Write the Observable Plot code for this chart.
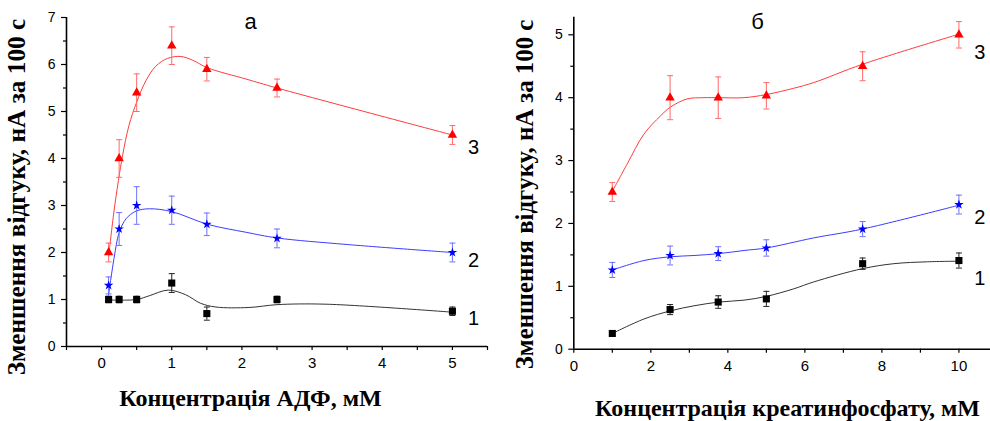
<!DOCTYPE html>
<html>
<head>
<meta charset="utf-8">
<script src="https://cdn.jsdelivr.net/npm/d3@7"></script>
<script src="https://cdn.jsdelivr.net/npm/@observablehq/plot@0.6"></script>
<style>
  body { margin: 0; background: #fff; }
  #chart { position: relative; width: 990px; height: 421px; overflow: hidden; background: #fff; }
  #chart svg { position: absolute; top: 0; }
</style>
</head>
<body>
<div id="chart"></div>
<script>
// ---- Panel а: response decrease vs ADP concentration (mM) ----
const adpConc  = [0.1, 0.25, 0.5, 1, 1.5, 2.5, 5];
const adpResp1 = [1.0, 1.0, 1.0, 1.35, 0.7, 1.0, 0.75];
const adpErr1  = [0.07, 0.07, 0.07, 0.2, 0.14, 0.07, 0.09];
const adpResp2 = [1.3, 2.5, 3.0, 2.9, 2.6, 2.3, 2.0];
const adpErr2  = [0.18, 0.35, 0.4, 0.3, 0.24, 0.2, 0.2];
const adpResp3 = [2.0, 4.0, 5.4, 6.4, 5.9, 5.5, 4.5];
const adpErr3  = [0.2, 0.4, 0.4, 0.4, 0.25, 0.19, 0.2];

// smoothed fit curves, panel а
const adpFitX1 = [0.1, 0.5, 0.68, 0.95, 1.2, 1.41, 1.63, 2.1, 2.5, 3.2, 5];
const adpFitY1 = [0.99, 1.0, 1.08, 1.2, 1.1, 0.92, 0.84, 0.83, 0.89, 0.9, 0.73];
const adpFitX2 = [0.1, 0.18, 0.25, 0.35, 0.49, 0.68, 1.0, 1.51, 2.06, 2.5, 3.5, 5];
const adpFitY2 = [1.1, 1.9, 2.42, 2.72, 2.88, 2.93, 2.87, 2.6, 2.43, 2.31, 2.17, 2.0];
const adpFitX3 = [0.1, 0.17, 0.24, 0.3, 0.39, 0.5, 0.63, 0.77, 0.94, 1.13, 1.3, 1.51, 2.06, 2.5, 5];
const adpFitY3 = [1.9, 2.8, 3.53, 4.07, 4.7, 5.2, 5.65, 5.96, 6.13, 6.17, 6.09, 5.93, 5.69, 5.5, 4.5];

// ---- Panel б: response decrease vs creatine phosphate concentration (mM) ----
const cpConc  = [1, 2.5, 3.75, 5, 7.5, 10];
const cpResp1 = [0.25, 0.63, 0.75, 0.8, 1.36, 1.41];
const cpErr1  = [0.04, 0.08, 0.1, 0.12, 0.09, 0.12];
const cpResp2 = [1.26, 1.49, 1.52, 1.61, 1.91, 2.3];
const cpErr2  = [0.12, 0.15, 0.11, 0.13, 0.12, 0.15];
const cpResp3 = [2.5, 4.0, 4.0, 4.03, 4.5, 5.0];
const cpErr3  = [0.15, 0.35, 0.33, 0.21, 0.23, 0.21];

// smoothed fit curves, panel б
const cpFitX1 = [1, 1.82, 2.51, 3.12, 3.77, 4.42, 5, 5.71, 6.23, 7.49, 8.31, 9.18, 10];
const cpFitY1 = [0.25, 0.48, 0.61, 0.69, 0.75, 0.78, 0.84, 0.96, 1.07, 1.28, 1.36, 1.39, 1.4];
const cpFitX2 = [1, 1.82, 2.51, 3.12, 3.77, 4.42, 5, 6.23, 7.49, 10];
const cpFitY2 = [1.26, 1.41, 1.47, 1.49, 1.52, 1.57, 1.61, 1.77, 1.91, 2.29];
const cpFitX3 = [1, 1.39, 1.82, 2.25, 2.51, 2.94, 3.38, 3.77, 4.42, 5, 5.71, 6.23, 7.49, 10];
const cpFitY3 = [2.51, 2.95, 3.42, 3.71, 3.85, 3.98, 4.0, 4.0, 4.0, 4.05, 4.15, 4.24, 4.53, 5.01];

// curve numbers and where they sit (data units)
const curveNames = ["1", "2", "3"];
const adpNameX = [5.3, 5.3, 5.3];
const adpNameY = [0.59, 1.82, 4.24];
const cpNameX  = [10.54, 10.54, 10.54];
const cpNameY  = [1.13, 2.09, 4.72];

// axis ticks
const adpTicksX = [0, 1, 2, 3, 4, 5];
const adpMinorX = [-0.5, 0.5, 1.5, 2.5, 3.5, 4.5, 5.5];
const adpTicksY = [0, 1, 2, 3, 4, 5, 6, 7];
const adpMinorY = [0.5, 1.5, 2.5, 3.5, 4.5, 5.5, 6.5];
const cpTicksX = [0, 2, 4, 6, 8, 10];
const cpMinorX = [1, 3, 5, 7, 9];
const cpTicksY = [0, 1, 2, 3, 4, 5];
const cpMinorY = [0.5, 1.5, 2.5, 3.5, 4.5];

const yTitle = "Зменшення відгуку, нА за 100 с";
const adpTitle = "Концентрація АДФ, мМ";
const cpTitle = "Концентрація креатинфосфату, мМ";

// marker / line styling per curve
const styles = [
  {symbol: "square",   fill: "#000000", line: "#333333", bar: "#222222", r: 4},
  {symbol: "star",     fill: "#0000ff", line: "#3c3cff", bar: "#6f6fff", r: 3},
  {symbol: "triangle", fill: "#ff0000", line: "#ff3c3c", bar: "#ff6a6a", r: 3.5}
];

// horizontal cap for error bars
const cap = {draw(ctx) { ctx.moveTo(-3, 0); ctx.lineTo(3, 0); }};

const serifBold = {fontFamily: "'Liberation Serif', 'Times New Roman', serif", fontWeight: "bold"};
const intFormat = d3.format("d");

function seriesMarks(xs, ys, es, fx, fy, st) {
  const pts = xs.map((x, i) => ({x, y: ys[i], e: es[i]}));
  const fit = fx.map((x, i) => ({x, y: fy[i]}));
  return [
    Plot.line(fit, {x: "x", y: "y", curve: "catmull-rom", stroke: st.line, strokeWidth: 1}),
    Plot.ruleX(pts, {x: "x", y1: d => d.y - d.e, y2: d => d.y + d.e, stroke: st.bar, strokeWidth: 1}),
    Plot.dot(pts, {x: "x", y: d => d.y - d.e, symbol: cap, stroke: st.bar, strokeWidth: 1, r: 3}),
    Plot.dot(pts, {x: "x", y: d => d.y + d.e, symbol: cap, stroke: st.bar, strokeWidth: 1, r: 3}),
    Plot.dot(pts, {x: "x", y: "y", symbol: st.symbol, fill: st.fill, stroke: "none", r: st.r})
  ];
}

function panel(cfg) {
  const names = curveNames.map((t, i) => ({t, x: cfg.nameX[i], y: cfg.nameY[i]}));
  return Plot.plot({
    width: 495,
    height: 421,
    marginLeft: cfg.margin[3],
    marginRight: cfg.margin[1],
    marginTop: cfg.margin[0],
    marginBottom: cfg.margin[2],
    style: {fontFamily: "'Liberation Sans', Arial, sans-serif", background: "transparent", color: "#000", overflow: "visible"},
    x: {domain: cfg.xDomain},
    y: {domain: cfg.yDomain},
    marks: [
      ...seriesMarks(cfg.conc, cfg.resp[0], cfg.err[0], cfg.fitX[0], cfg.fitY[0], styles[0]),
      ...seriesMarks(cfg.conc, cfg.resp[1], cfg.err[1], cfg.fitX[1], cfg.fitY[1], styles[1]),
      ...seriesMarks(cfg.conc, cfg.resp[2], cfg.err[2], cfg.fitX[2], cfg.fitY[2], styles[2]),
      Plot.ruleY([cfg.yDomain[0]], {stroke: "#000", strokeWidth: 1.6}),
      Plot.ruleX([cfg.xDomain[0]], {stroke: "#000", strokeWidth: 1.6}),
      Plot.axisY(cfg.ticksY, {tickSize: 5, tickPadding: 6, fontSize: 14, label: null, strokeWidth: 1.2, tickFormat: intFormat}),
      Plot.axisY(cfg.minorY, {tickSize: 3, tickFormat: () => "", label: null, strokeWidth: 1.2}),
      Plot.axisX(cfg.ticksX, {tickSize: 4, tickPadding: 7, fontSize: 15, label: null, strokeWidth: 1.2, tickFormat: intFormat}),
      Plot.axisX(cfg.minorX, {tickSize: 4, tickFormat: () => "", label: null, strokeWidth: 1.2}),
      Plot.text(names, {x: "x", y: "y", text: "t", fontSize: 20, lineAnchor: "middle", textAnchor: "middle", fill: "#000"}),
      Plot.text([cfg.letter], {text: d => d, frameAnchor: "top", dx: cfg.letterD[0], dy: cfg.letterD[1], lineAnchor: "bottom", textAnchor: "middle", fontSize: 22, fill: "#000"}),
      Plot.text([cfg.xTitle], {text: d => d, frameAnchor: "bottom", dx: cfg.xTitleD[0], dy: cfg.xTitleD[1], lineAnchor: "bottom", textAnchor: "middle", fill: "#000", fontSize: 24, ...serifBold}),
      Plot.text([yTitle], {text: d => d, frameAnchor: "left", rotate: -90, dx: cfg.yTitleD[0], dy: cfg.yTitleD[1], lineAnchor: "middle", textAnchor: "middle", fill: "#000", fontSize: cfg.yTitleSize, ...serifBold})
    ]
  });
}

const left = panel({
  margin: [17, 8, 75, 66],
  xDomain: [-0.5, 5.5], yDomain: [0, 7],
  conc: adpConc,
  resp: [adpResp1, adpResp2, adpResp3],
  err: [adpErr1, adpErr2, adpErr3],
  fitX: [adpFitX1, adpFitX2, adpFitX3],
  fitY: [adpFitY1, adpFitY2, adpFitY3],
  nameX: adpNameX, nameY: adpNameY,
  ticksX: adpTicksX, minorX: adpMinorX, ticksY: adpTicksY, minorY: adpMinorY,
  letter: "а", letterD: [-26.5, 11.3],
  xTitle: adpTitle, xTitleD: [-26.5, 59],
  yTitleD: [-49.5, 15], yTitleSize: 25.3
});

const right = panel({
  margin: [16.7, 0, 72.3, 78.3],
  xDomain: [0, 10.82], yDomain: [0, 5.28],
  conc: cpConc,
  resp: [cpResp1, cpResp2, cpResp3],
  err: [cpErr1, cpErr2, cpErr3],
  fitX: [cpFitX1, cpFitX2, cpFitX3],
  fitY: [cpFitY1, cpFitY2, cpFitY3],
  nameX: cpNameX, nameY: cpNameY,
  ticksX: cpTicksX, minorX: cpMinorX, ticksY: cpTicksY, minorY: cpMinorY,
  letter: "б", letterD: [-24.6, 11.6],
  xTitle: cpTitle, xTitleD: [5.4, 66.3],
  yTitleD: [-49, 11.3], yTitleSize: 24.8
});

left.style.left = "0px";
right.style.left = "495px";
const host = document.getElementById("chart");
host.appendChild(left);
host.appendChild(right);
</script>
</body>
</html>
